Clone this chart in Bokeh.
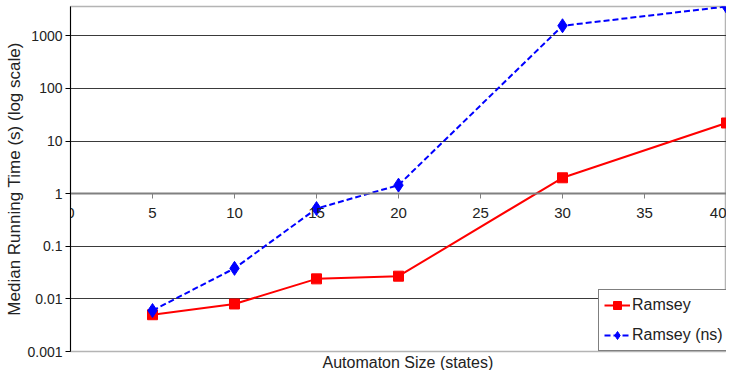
from bokeh.plotting import figure
from bokeh.models import (LinearAxis, FixedTicker, CustomJSTickFormatter, Range1d,
                          Title, Legend, LegendItem)
from bokeh.embed import file_html
from bokeh.resources import INLINE

sizes = [5, 10, 15, 20, 30, 40]
ramsey = [0.005, 0.008, 0.024, 0.027, 2.0, 22]
ramsey_ns = [0.006, 0.038, 0.52, 1.45, 1550, 3600]
x_ticks = [0, 5, 10, 15, 20, 25, 30, 35, 40]
y_ticks = [0.001, 0.01, 0.1, 1, 10, 100, 1000]

FONT = "Liberation Sans"

p = figure(width=726, height=370, y_axis_type="log", x_axis_location=None,
           x_range=Range1d(0, 40), y_range=Range1d(0.001, 3600),
           output_backend="svg", toolbar_location=None,
           min_border_left=70, min_border_right=0, min_border_top=6, min_border_bottom=0)
p.background_fill_color = "white"
p.border_fill_color = "white"
p.outline_line_color = "#b4b4b4"
p.outline_line_width = 1.5

# y axis
yax = p.yaxis[0]
yax.ticker = FixedTicker(ticks=y_ticks)
yax.formatter = CustomJSTickFormatter(code="return String(tick)")
yax.minor_tick_line_color = None
yax.major_tick_in = 0
yax.major_tick_out = 5
yax.axis_line_color = "black"
yax.major_tick_line_color = "black"
yax.major_label_text_font = FONT
yax.major_label_text_font_size = "14px"
yax.major_label_text_color = "#222222"
yax.major_label_standoff = 3
yax.axis_label = "Median Running Time (s) (log scale)"
yax.axis_label_text_font = FONT
yax.axis_label_text_font_size = "17px"
yax.axis_label_text_font_style = "normal"
yax.axis_label_text_color = "#222222"
yax.axis_label_standoff = 0

p.ygrid.ticker = FixedTicker(ticks=y_ticks)
p.ygrid.grid_line_color = "#3a3a3a"
p.ygrid.grid_line_width = 1
p.xgrid.grid_line_color = None

# x axis crossing at y = 1
xax = LinearAxis(fixed_location=1, ticker=FixedTicker(ticks=x_ticks))
xax.minor_tick_line_color = None
xax.major_tick_in = 0
xax.major_tick_out = 5
xax.axis_line_color = "#808080"
xax.axis_line_width = 2
xax.major_tick_line_color = "#808080"
xax.major_label_text_font = FONT
xax.major_label_text_font_size = "15px"
xax.major_label_text_color = "#222222"
xax.major_label_standoff = 9
p.add_layout(xax, "below")

p.add_layout(Title(text="Automaton Size (states)", align="left", offset=252,
                   text_font=FONT, text_font_size="16px", text_font_style="normal",
                   text_color="#222222", standoff=0), "below")

r1 = p.line(sizes, ramsey, line_color="#ff0000", line_width=2)
m1 = p.scatter(sizes, ramsey, marker="square", size=10, fill_color="#ff0000",
               line_color="#ff0000")
r2 = p.line(sizes, ramsey_ns, line_color="#0000ff", line_width=2, line_dash="6 3")
m2 = p.scatter(sizes, ramsey_ns, marker="diamond", size=14, fill_color="#0000ff",
               line_color="#0000ff")

legend = Legend(items=[LegendItem(label="Ramsey", renderers=[r1, m1]),
                       LegendItem(label="Ramsey (ns)", renderers=[r2, m2])],
                location=(528, 0))
legend.border_line_color = "black"
legend.border_line_width = 1
legend.background_fill_color = "white"
legend.background_fill_alpha = 1
legend.label_text_font = FONT
legend.label_text_font_size = "16px"
legend.label_text_color = "#222222"
legend.glyph_width = 26
legend.glyph_height = 20
legend.label_standoff = 2
legend.spacing = 10
legend.padding = 5
legend.margin = 0
legend.label_width = 89
p.add_layout(legend, "center")

open("out.html", "w").write(file_html(p, INLINE))
